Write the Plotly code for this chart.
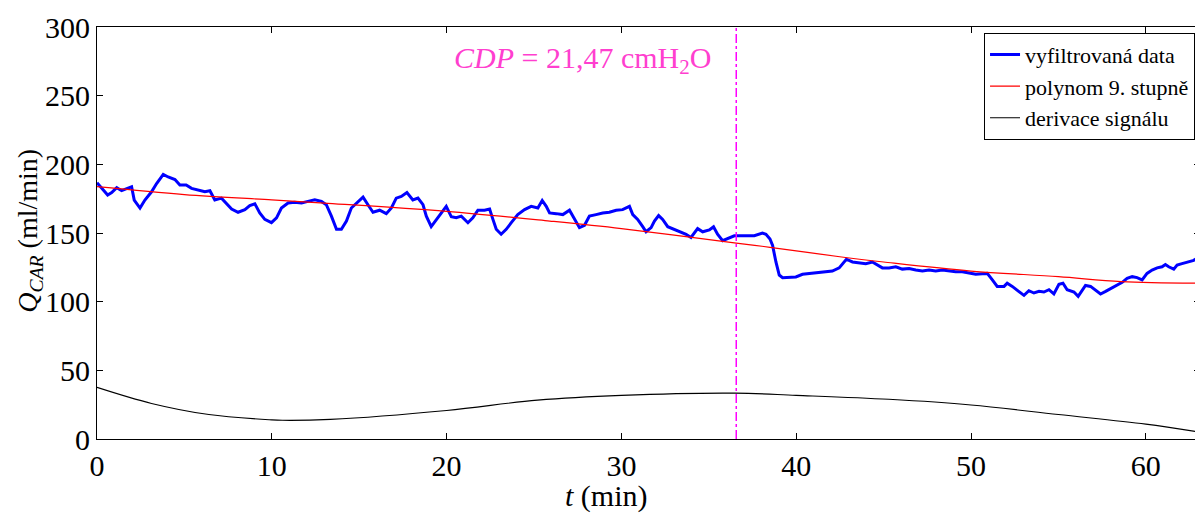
import plotly.graph_objects as go

# ---- data ----
t_data = [0, 0.27, 0.61, 0.84, 1.13, 1.41, 1.7, 1.98, 2.13, 2.46, 2.74, 3.12, 3.41, 3.79, 4.07, 4.46,
          4.74, 5.1, 5.41, 5.79, 6.17, 6.46, 6.74, 7.12, 7.41, 7.7, 8.07, 8.46, 8.74, 9.03, 9.31, 9.6,
          9.98, 10.27, 10.55, 10.93, 11.31, 11.7, 12.07, 12.46, 12.84, 13.12, 13.41, 13.7, 13.98, 14.27,
          14.55, 14.93, 15.22, 15.5, 15.79, 16.17, 16.55, 16.84, 17.12, 17.41, 17.73, 18.07, 18.36,
          18.65, 18.84, 19.12, 19.41, 19.7, 19.98, 20.27, 20.55, 20.84, 21.22, 21.5, 21.79, 22.17,
          22.46, 22.65, 22.84, 23.12, 23.41, 23.7, 24.07, 24.46, 24.84, 25.22, 25.47, 25.7, 25.89,
          26.27, 26.65, 27.03, 27.31, 27.6, 27.89, 28.17, 28.55, 28.93, 29.31, 29.7, 30.07, 30.46,
          30.65, 30.93, 31.22, 31.41, 31.7, 31.89, 32.13, 32.36, 32.65, 33.03, 33.41, 33.7, 33.98,
          34.36, 34.65, 35.03, 35.27, 35.5, 35.79, 36.07, 36.46, 37.03, 37.6, 38.07, 38.27, 38.5,
          38.65, 38.84, 39.03, 39.22, 39.6, 39.98, 40.36, 40.93, 41.5, 42.07, 42.46, 42.69, 42.87,
          43.22, 43.6, 43.98, 44.36, 44.65, 44.93, 45.31, 45.7, 46.07, 46.46, 46.84, 47.22, 47.6,
          47.98, 48.36, 48.74, 49.12, 49.5, 49.89, 50.27, 50.65, 50.93, 51.22, 51.5, 51.89, 52.07,
          52.36, 52.74, 53.03, 53.31, 53.6, 53.89, 54.17, 54.46, 54.74, 55.03, 55.26, 55.5, 55.89,
          56.13, 56.36, 56.55, 56.84, 57.12, 57.41, 57.7, 57.98, 58.27, 58.65, 58.93, 59.22, 59.5,
          59.79, 60.07, 60.36, 60.65, 60.93, 61.12, 61.31, 61.6, 61.79, 62.07, 62.45, 62.74, 63.03]
q_filtered = [186.6, 182.5, 177.7, 179.4, 183.0, 180.8, 182.5, 183.7, 174.0, 168.2, 174.0, 180.0, 186.0,
              192.7, 190.8, 188.9, 184.9, 184.9, 182.5, 181.3, 180.1, 180.8, 174.1, 175.4, 171.8, 167.5,
              165.1, 167.0, 169.9, 171.3, 164.6, 159.9, 157.5, 161.0, 168.2, 171.8, 172.3, 171.8, 173.0,
              174.1, 173.0, 170.6, 162.3, 152.7, 152.7, 158.7, 168.2, 173.0, 176.1, 170.6, 165.1, 166.6,
              164.1, 168.2, 175.4, 176.6, 179.4, 174.1, 175.4, 170.6, 162.3, 154.6, 159.9, 165.1, 169.4,
              161.8, 161.1, 162.3, 157.5, 161.1, 166.6, 166.6, 167.5, 159.9, 152.7, 149.1, 152.7, 157.5,
              163.4, 167.0, 169.4, 168.2, 173.7, 169.4, 164.6, 164.1, 163.4, 166.6, 159.9, 153.9, 155.6,
              162.3, 163.4, 164.6, 165.1, 166.6, 167.0, 169.4, 163.4, 159.9, 154.6, 150.9, 153.9, 158.7,
              162.7, 159.9, 154.6, 152.7, 150.9, 149.1, 146.8, 153.2, 150.9, 152.3, 154.6, 149.1, 144.4,
              146.1, 148.0, 148.0, 148.0, 149.9, 149.1, 145.6, 140.9, 128.9, 119.4, 117.5, 118.0, 118.0,
              119.9, 120.6, 121.8, 122.3, 124.6, 128.4, 130.9, 128.9, 128.4, 127.7, 128.9, 127.0, 124.6,
              124.6, 125.4, 123.7, 124.1, 123.0, 122.3, 123.0, 122.3, 123.0, 122.3, 121.8, 121.8, 121.1,
              119.9, 120.4, 120.6, 115.9, 111.1, 111.1, 113.4, 111.1, 107.5, 104.6, 108.0, 106.3, 107.5,
              107.0, 108.7, 105.6, 112.7, 113.4, 108.7, 107.0, 103.9, 108.7, 111.8, 111.1, 108.7, 105.6,
              107.5, 109.4, 111.8, 114.1, 117.0, 118.2, 117.5, 115.9, 120.6, 123.0, 124.6, 125.4, 127.0,
              125.4, 123.7, 126.6, 127.7, 128.9, 130.1, 132.5]

t_poly = [0, 5, 10, 13, 20, 25.9, 30, 36.57, 38.5, 42.6, 45, 50, 55, 58.6, 63.1]
q_poly = [183.7, 178.0, 174.1, 171.8, 165.8, 158.7, 153.2, 142.7, 139.6, 132.5, 128.9, 122.3, 118.2, 114.6, 113.4]

t_deriv = [0, 3.12, 6.4, 10, 10.6, 13.35, 20, 25.2, 30, 36.5, 40, 45.3, 50, 55, 60, 63.1]
q_deriv = [37.6, 25.9, 17.8, 13.9, 13.6, 14.3, 20.8, 28.3, 31.8, 33.4, 31.8, 28.9, 24.8, 17.8, 10.8, 5.0]

cdp_time = 36.57
cdp_label = "<i>CDP</i> = 21,47 cmH<sub>2</sub>O"

x_ticks = [0, 10, 20, 30, 40, 50, 60]
y_ticks = [0, 50, 100, 150, 200, 250, 300]
x_title = "<i>t</i> (min)"
y_title = "<i>Q</i><sub><i>CAR</i></sub> (ml/min)"

FONT = "Liberation Serif, Times New Roman, serif"

fig = go.Figure()
fig.add_trace(go.Scatter(x=t_data, y=q_filtered, mode="lines", name="vyfiltrovaná data",
                         line=dict(color="#0000ff", width=3)))
fig.add_trace(go.Scatter(x=t_poly, y=q_poly, mode="lines", name="polynom 9. stupně",
                         line=dict(color="#ff0000", width=1.2, shape="spline")))
fig.add_trace(go.Scatter(x=t_deriv, y=q_deriv, mode="lines", name="derivace signálu",
                         line=dict(color="#000000", width=1.1, shape="spline")))

fig.add_shape(type="line", xref="x", yref="paper", x0=cdp_time, x1=cdp_time, y0=0, y1=1,
              line=dict(color="#ff00ff", width=1.5, dash="dashdot"))
fig.add_annotation(x=cdp_time - 1.35, y=0.919, xref="x", yref="paper", text=cdp_label,
                   showarrow=False, xanchor="right", yanchor="middle",
                   font=dict(family=FONT, size=30, color="#ff3fcf"))

# axis titles placed as annotations to match the reference placement
fig.add_annotation(x=0.462, y=-0.138, xref="paper", yref="paper", text=x_title,
                   showarrow=False, xanchor="center", yanchor="middle",
                   font=dict(family=FONT, size=30, color="black"))
fig.add_annotation(x=-0.061, y=0.505, xref="paper", yref="paper", text=y_title,
                   showarrow=False, xanchor="center", yanchor="middle", textangle=-90,
                   font=dict(family=FONT, size=28, color="black"))

axis_common = dict(showgrid=False, zeroline=False, showline=True, linecolor="black", linewidth=1,
                   mirror="ticks", ticks="inside", ticklen=6, tickcolor="black", tickwidth=1,
                   ticklabeloverflow="allow",
                   tickfont=dict(family=FONT, size=30, color="black"))

fig.update_xaxes(range=[0, 63.1], tickvals=x_ticks, ticktext=[str(v) for v in x_ticks],
                 **axis_common)
fig.update_yaxes(range=[0, 300], tickvals=y_ticks, ticktext=[str(v) for v in y_ticks],
                 **axis_common)

# page body has an 8px margin; size/margins chosen so the plot area lands where the reference has it
fig.update_layout(
    width=1195, height=510,
    margin=dict(l=89, r=2, t=13, b=79),
    paper_bgcolor="white", plot_bgcolor="white",
    font=dict(family=FONT, color="black"),
    showlegend=True,
    legend=dict(x=0.9955, y=0.986, xanchor="right", yanchor="top",
                bgcolor="white", bordercolor="black", borderwidth=1,
                font=dict(family=FONT, size=22, color="black"),
                tracegroupgap=0, itemwidth=30),
)

fig.write_html("out.html")
